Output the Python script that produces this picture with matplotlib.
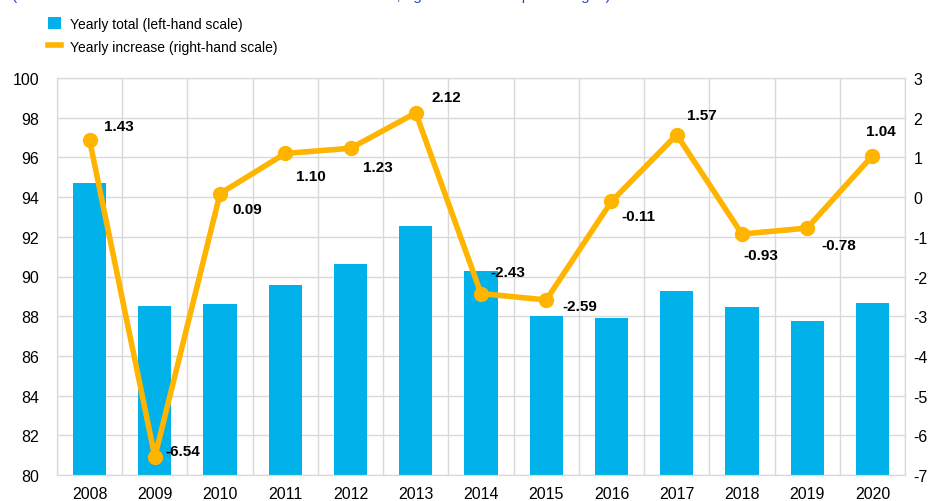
import matplotlib.pyplot as plt
import numpy as np

plt.rcParams['font.family'] = ['Liberation Sans', 'DejaVu Sans']
plt.rcParams['axes.unicode_minus'] = False

years = ['2008', '2009', '2010', '2011', '2012', '2013', '2014',
         '2015', '2016', '2017', '2018', '2019', '2020']
yearly_total = [94.7, 88.5, 88.6, 89.55, 90.65, 92.55, 90.3,
                88.0, 87.9, 89.25, 88.45, 87.75, 88.65]
yearly_increase = [1.43, -6.54, 0.09, 1.10, 1.23, 2.12, -2.43,
                   -2.59, -0.11, 1.57, -0.93, -0.78, 1.04]
# label offsets in pixels (dx, dy) relative to each point
label_offsets = [(29, 14), (28, 6), (27, -15), (26, -23), (27, -19), (31, 16), (27, 22),
                 (34, -6), (27, -15), (25, 20), (19, -21), (32, -17), (8, 25)]

BAR_COLOR = '#00b1ea'
LINE_COLOR = '#ffb400'
GRID_COLOR = '#d9d9d9'

fig = plt.figure(figsize=(9.31, 5.02), dpi=100)
ax = fig.add_axes([57 / 931, 1 - 476 / 502, 848 / 931, 397 / 502])
ax2 = ax.twinx()

x = np.arange(len(years))
ax.bar(x, yearly_total, width=0.51, color=BAR_COLOR, zorder=2,
       label='Yearly total (left-hand scale)')
ax.set_ylim(80, 100)
ax.set_yticks(np.arange(80, 101, 2))
ax.set_xlim(-0.5, len(years) - 0.5)
ax.set_xticks(x)
ax.set_xticklabels(years)
ax.set_xticks(np.arange(-0.5, len(years), 1), minor=True)

ax.grid(axis='y', color=GRID_COLOR, lw=1, zorder=0)
ax.grid(axis='x', which='minor', color=GRID_COLOR, lw=1, zorder=0)
ax.set_axisbelow(True)
ax.tick_params(axis='both', which='both', length=0, labelsize=11.5, colors='#000000')
ax.tick_params(axis='y', pad=13)
ax.tick_params(axis='x', pad=8)
for s in ax.spines.values():
    s.set_color(GRID_COLOR)
for s in ax2.spines.values():
    s.set_color(GRID_COLOR)

ax2.plot(x, yearly_increase, color=LINE_COLOR, lw=4, marker='o', ms=10,
         zorder=3, label='Yearly increase (right-hand scale)')
ax2.set_ylim(-7, 3)
ax2.set_yticks(np.arange(-7, 4, 1))
ax2.tick_params(axis='y', length=0, labelsize=11.5, pad=6)

for xi, v, (dx, dy) in zip(x, yearly_increase, label_offsets):
    ax2.annotate(f'{v:.2f}', (xi, v), xytext=(dx, dy), textcoords='offset pixels',
                 ha='center', va='center', fontsize=11, fontweight='bold')

# subtitle, cut off at the top edge in the original (only descenders show)
fig.text(12 / 931, 1.008, '(left-hand scale: EUR billions and number of transactions; right-hand scale: percentages)',
         color='#2850b4', fontsize=11, ha='left', va='center')

h1, l1 = ax.get_legend_handles_labels()
h2, l2 = ax2.get_legend_handles_labels()
line_handle = plt.Line2D([], [], color=LINE_COLOR, lw=4)
fig.legend([h1[0], line_handle], [l1[0], l2[0]], loc='upper left',
           bbox_to_anchor=(35 / 931, 1 - 5 / 502), frameon=False, fontsize=10,
           handlelength=1.0, handleheight=1.0, handletextpad=0.6, labelspacing=0.65)

plt.savefig('out.png', dpi=100)
